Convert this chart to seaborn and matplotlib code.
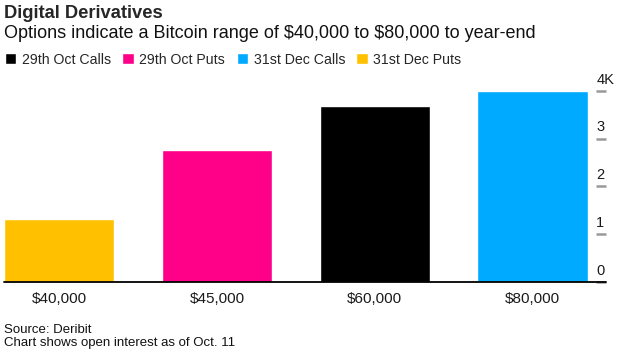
# Digital Derivatives - Bitcoin options open interest by strike
import pandas as pd
import matplotlib.pyplot as plt
import seaborn as sns
from matplotlib.transforms import ScaledTranslation

# data (open interest, thousands of contracts)
strikes = ['$40,000', '$45,000', '$60,000', '$80,000']
series = ['31st Dec Puts', '29th Oct Puts', '29th Oct Calls', '31st Dec Calls']
open_interest = [1.31, 2.76, 3.68, 4.0]

legend_order = ['29th Oct Calls', '29th Oct Puts', '31st Dec Calls', '31st Dec Puts']
colors = {'29th Oct Calls': '#000000', '29th Oct Puts': '#ff0088',
          '31st Dec Calls': '#00aaff', '31st Dec Puts': '#ffc000'}
y_ticks = [0, 1, 2, 3, 4]
y_ticklabels = ['0', '1', '2', '3', '4K']

df = pd.DataFrame({'Strike': strikes, 'Series': series, 'OI': open_interest})

sns.set_style('white')
plt.rcParams['font.family'] = ['Liberation Sans', 'DejaVu Sans']
plt.rcParams['text.parse_math'] = False

fig = plt.figure(figsize=(6.22, 3.59), dpi=100)
ax = fig.add_axes([4 / 622, 77 / 359, 602 / 622, 191.3 / 359])

sns.barplot(data=df, x='Strike', y='OI', hue='Series', hue_order=legend_order,
            palette=colors, dodge=False, width=0.7, saturation=1, ax=ax)

ax.set_xlim(-0.35, 3.466)
ax.set_ylim(0, 4)
ax.set_xlabel('')
ax.set_ylabel('')
for s in ax.spines.values():
    s.set_visible(False)
ax.axhline(0, color='black', lw=1.3, zorder=5, clip_on=False)

# y axis on the right, labels sit above small inward ticks
ax.yaxis.tick_right()
ax.set_yticks(y_ticks)
ax.set_yticklabels(y_ticklabels)
ax.tick_params(axis='y', direction='in', length=7, width=1.8, color='#999999',
               pad=-7, labelsize=10.5, labelcolor='#1a1a1a')
for lab in ax.get_yticklabels():
    lab.set_va('bottom')
    lab.set_transform(lab.get_transform() + ScaledTranslation(0, 3 / 72, fig.dpi_scale_trans))
ax.tick_params(axis='x', length=0, pad=7, labelsize=11, labelcolor='#1a1a1a')

# legend at the top
sns.move_legend(ax, 'center left', bbox_to_anchor=(5 / 622, 299.5 / 359),
                bbox_transform=fig.transFigure, ncol=4, frameon=False, title=None,
                fontsize=10.2, handlelength=0.8, handleheight=0.8,
                handletextpad=0.4, columnspacing=0.8, borderaxespad=0, borderpad=0)

fig.text(4 / 622, 1 - 5 / 359, 'Digital Derivatives', fontsize=13.2, fontweight='bold',
         va='top', ha='left')
fig.text(4 / 622, 1 - 25 / 359, 'Options indicate a Bitcoin range of $40,000 to $80,000 to year-end',
         fontsize=13, va='top', ha='left', color='#111111')
fig.text(4 / 622, 1 - 324 / 359, 'Source: Deribit\nChart shows open interest as of Oct. 11',
         fontsize=9.5, va='top', ha='left', color='#111111', linespacing=1.1)

fig.savefig('out.png', dpi=100)
